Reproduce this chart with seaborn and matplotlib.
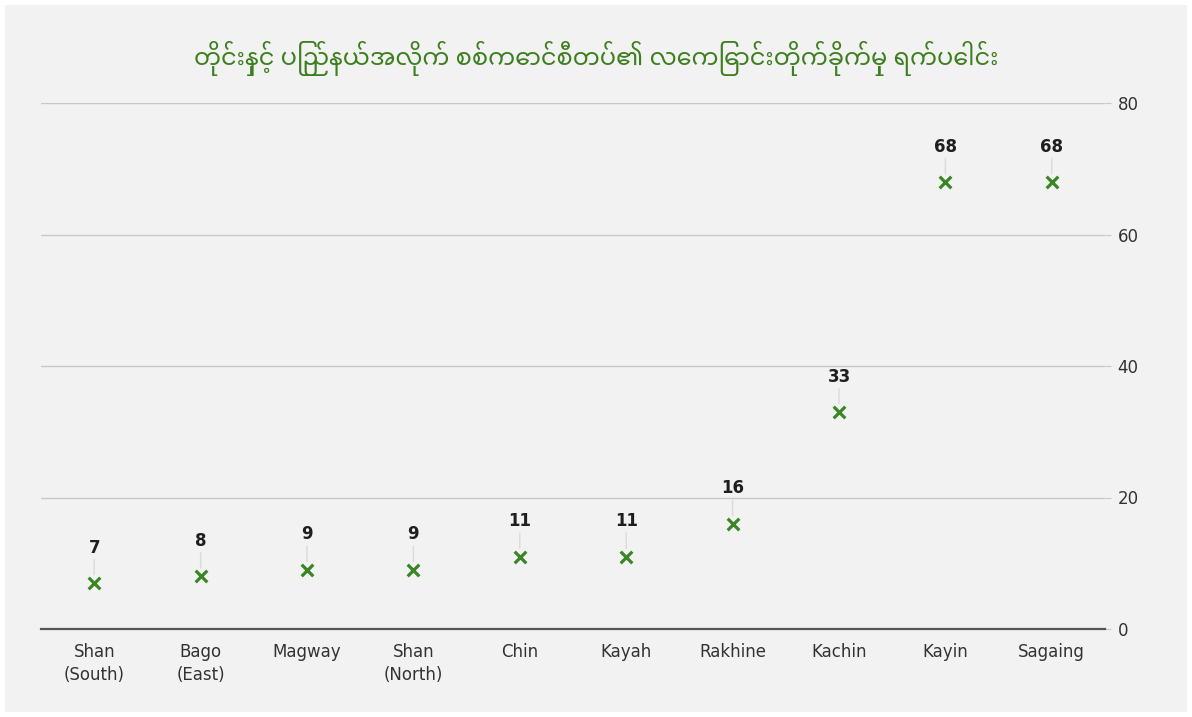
import matplotlib
matplotlib.use("Agg")
import matplotlib.pyplot as plt
import seaborn as sns
import pandas as pd

regions = ["Shan\n(South)", "Bago\n(East)", "Magway", "Shan\n(North)", "Chin",
           "Kayah", "Rakhine", "Kachin", "Kayin", "Sagaing"]
counts = [7, 8, 9, 9, 11, 11, 16, 33, 68, 68]
y_ticks = [0, 20, 40, 60, 80]
title = "တိုင်းနှင့် ပြည်နယ်အလိုက် စစ်ကောင်စီတပ်၏ လေကြောင်းတိုက်ခိုက်မှု ရက်ပေါင်း"

df = pd.DataFrame({"region": regions, "count": counts})

sns.set_style("white")
plt.rcParams["font.family"] = ["DejaVu Sans"]

bg = "#f2f2f2"
green = "#3d7f1f"

# white frame around the grey card
fig = plt.figure(figsize=(11.92, 7.17), dpi=100, facecolor=bg,
                 edgecolor="white", linewidth=7.2)
ax = fig.add_axes([41 / 1192, 88 / 717, (1105 - 41) / 1192, (629 - 103) / 717])
ax.set_facecolor(bg)

sns.scatterplot(data=df, x="region", y="count", marker="x", color="#3a8524",
                s=70, linewidth=2.3, ax=ax, zorder=3)

for i, v in enumerate(counts):
    # thin leader line from the label down to the marker
    ax.annotate("", xy=(i, v), xytext=(0, 17), textcoords="offset points",
                arrowprops=dict(arrowstyle="-", color="#dadada", lw=1,
                                shrinkA=0, shrinkB=6))
    ax.annotate(str(v), xy=(i, v), xytext=(0, 19), textcoords="offset points",
                ha="center", va="bottom", fontsize=12, fontweight="bold",
                color="#1e1e1e")

ax.set_xlim(-0.5, len(regions) - 0.5)
ax.set_ylim(0, 80)
ax.set_yticks(y_ticks)
ax.yaxis.tick_right()
ax.grid(axis="y", color="#c8c8c8", linewidth=1)
ax.set_axisbelow(True)
for side in ["top", "left", "right"]:
    ax.spines[side].set_visible(False)
ax.spines["bottom"].set_color("#555555")
ax.spines["bottom"].set_linewidth(1.6)
ax.tick_params(axis="y", length=4, color="#c8c8c8", labelsize=12,
               labelcolor="#333333", pad=5)
ax.tick_params(axis="x", length=0, labelsize=12, labelcolor="#333333", pad=10)
for lbl in ax.get_xticklabels():
    lbl.set_linespacing(1.35)
ax.set_xlabel("")
ax.set_ylabel("")

fig.text(0.5, 1 - 58 / 717, title, ha="center", va="center", fontsize=17.3,
         fontweight="bold", color=green,
         family=["Noto Sans Myanmar", "Padauk", "Myanmar Text", "DejaVu Sans"])

fig.savefig("out.png", dpi=100)
